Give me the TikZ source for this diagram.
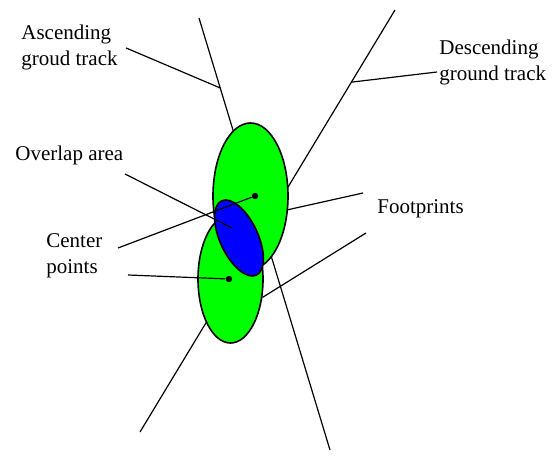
\documentclass[tikz,border=0pt]{standalone}
\usepackage{fontspec}
\setmainfont{Liberation Serif}
\usetikzlibrary{shapes.geometric}

\begin{document}
\begin{tikzpicture}[x=0.5pt, y=-0.5pt,
tag/.style={inner sep=0pt, align=left, font=\fontsize{10.5}{13}\selectfont},
track/.style={line width=0.6pt},
leader/.style={line width=0.6pt},
footprint/.style={ellipse, draw, line width=0.8pt, fill=green, inner sep=0pt},
overlap/.style={ellipse, draw, line width=0.8pt, fill=blue, inner sep=0pt},
ctrdot/.style={circle, fill=black, inner sep=0pt, minimum size=3.2pt}
]
\useasboundingbox (0,0) rectangle (557,464);

% ground tracks
\coordinate (asctop) at (199,18);
\coordinate (ascbot) at (330,450);
\coordinate (destop) at (395,10);
\coordinate (desbot) at (140,432);
\draw[track] (asctop) -- (ascbot);
\draw[track] (destop) -- (desbot);
\path (asctop) -- (ascbot) coordinate[pos=0.162] (ascpt);
\path (destop) -- (desbot) coordinate[pos=0.171] (despt);

% footprints
\node[footprint, minimum width=37.5pt, minimum height=73pt] (upfp) at (250.5,196) {};
\node[footprint, minimum width=32.5pt, minimum height=64pt] (lowfp) at (230.5,279) {};
\node[overlap, minimum width=19pt, minimum height=41pt, rotate=25] (ovl) at (239,238) {};
\node[ctrdot] (updot) at (255,196) {};
\node[ctrdot] (lowdot) at (229,279) {};

% labels
\node[tag, anchor=north west] (asclbl) at (21,25) {Ascending\\groud track};
\node[tag, anchor=north west] (deslbl) at (439,40) {Descending\\ground track};
\node[tag, anchor=base west] (ovllbl) at (15,161) {Overlap area};
\node[tag, anchor=north west] (ctrlbl) at (46,233) {Center\\points};
\node[tag, anchor=base west] (fplbl) at (377,214) {Footprints};

\coordinate (desfrom) at (437,72);
\coordinate (ovlfrom) at (125,174);
\coordinate (ovlin) at (232,228);
\coordinate (upfrom) at (118,248);
\coordinate (lowfrom) at (128,275);
\coordinate (fpfromA) at (363,193);
\coordinate (fpfromB) at (366,233);

\draw[leader] ([xshift=4pt]asclbl.east) -- (ascpt);
\draw[leader] (desfrom) -- (despt);
\draw[leader] (ovlfrom) -- (ovlin);
\draw[leader] (upfrom) -- (updot);
\draw[leader] (lowfrom) -- (lowdot);
\draw[leader] (fpfromA) -- (upfp.-20);
\draw[leader] (fpfromB) -- (lowfp.-30);
\end{tikzpicture}
\end{document}
